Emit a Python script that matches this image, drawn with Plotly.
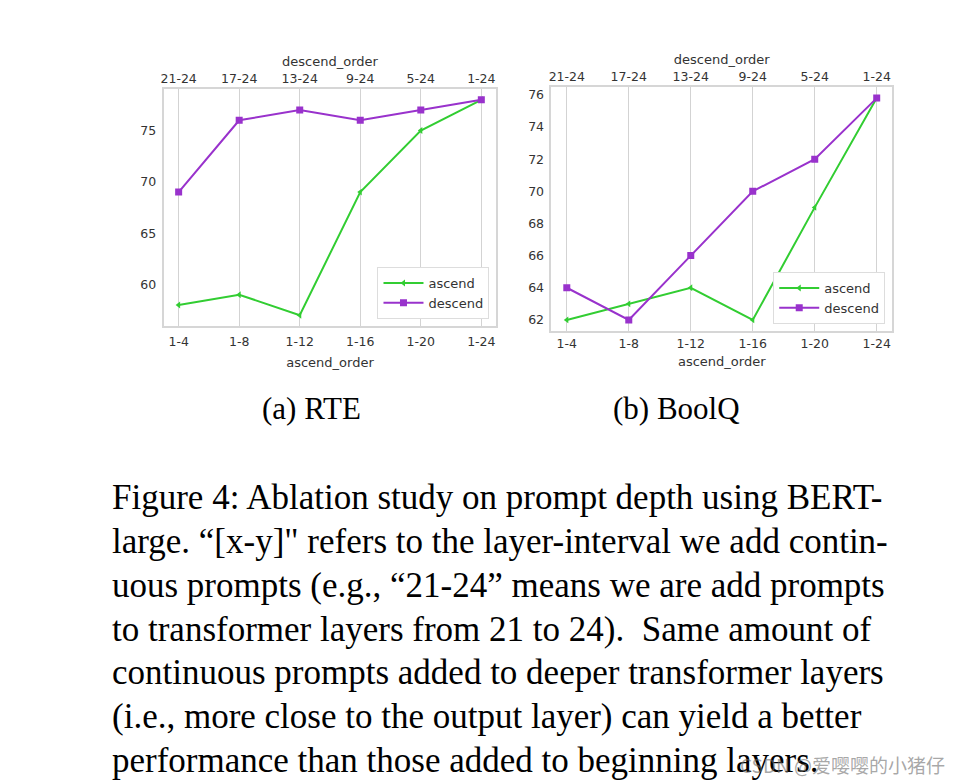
import plotly.graph_objects as go

# the page body has an 8px margin, so the figure is drawn 8px smaller
# and reference pixels are shifted by that offset
OFF = 8
W, H = 959 - OFF, 783 - OFF

ascend_order = ["1-4", "1-8", "1-12", "1-16", "1-20", "1-24"]
descend_order = ["21-24", "17-24", "13-24", "9-24", "5-24", "1-24"]

rte_ascend = [58, 59, 57, 69, 75, 78]
rte_descend = [69, 76, 77, 76, 77, 78]
boolq_ascend = [62, 63, 64, 62, 69, 75.8]
boolq_descend = [64, 62, 66, 70, 72, 75.8]

caption_lines = [
    "Figure 4: Ablation study on prompt depth using BERT-",
    "large. “[x-y]\" refers to the layer-interval we add contin-",
    "uous prompts (e.g., “21-24” means we are add prompts",
    "to transformer layers from 21 to 24).  Same amount of",
    "continuous prompts added to deeper transformer layers",
    "(i.e., more close to the output layer) can yield a better",
    "performance than those added to beginning layers.",
]
subcaptions = ["(a) RTE", "(b) BoolQ"]

GREEN = "#32CD32"
PURPLE = "#9932CC"
TXT = "#333333"
FRAME = "#d6d6d6"
FONT = "DejaVu Sans"


def px_x(v):
    return (v - OFF) / W


def px_y(v):
    return 1 - (v - OFF) / H


idx = list(range(len(ascend_order)))
fig = go.Figure()

panels = [
    # (ascend, descend, bottom x, top x, y, legend, box in page px, label gap, title gap)
    (rte_ascend, rte_descend, "x", "x3", "y", "legend", (161, 495, 89, 326), 3, 10),
    (boolq_ascend, boolq_descend, "x2", "x4", "y2", "legend2", (550, 892, 87, 331), 0, 7),
]

for asc, desc, xb, xt, ya, leg, *_ in panels:
    fig.add_trace(go.Scatter(
        x=idx, y=asc, xaxis=xb, yaxis=ya, name="ascend", legend=leg,
        mode="lines+markers", line=dict(color=GREEN, width=2),
        marker=dict(symbol="triangle-left", size=6, color=GREEN)))
    fig.add_trace(go.Scatter(
        x=idx, y=desc, xaxis=xt, yaxis=ya, name="descend", legend=leg,
        mode="lines+markers", line=dict(color=PURPLE, width=2),
        marker=dict(symbol="square", size=7, color=PURPLE)))

axis_common = dict(
    tickfont=dict(family=FONT, size=12.5, color=TXT),
    ticks="", zeroline=False,
)
title_font = dict(family=FONT, size=13, color=TXT)
xr = [-0.25, 5.25]


def yrange(a, b):
    lo, hi = min(a + b), max(a + b)
    pad = (hi - lo) * 0.05
    return [lo - pad, hi + pad]


layout = dict(
    width=W, height=H, margin=dict(l=0, r=0, t=0, b=0),
    paper_bgcolor="white", plot_bgcolor="white", showlegend=True,
)
for n, (asc, desc, xb, xt, ya, leg, box, lgap, tgap) in enumerate(panels):
    l, r, t, b = box
    dom_x = [px_x(l), px_x(r)]
    dom_y = [px_y(b), px_y(t)]
    bname = "xaxis" if xb == "x" else "xaxis" + xb[1:]
    tname = "xaxis" + xt[1:]
    yname = "yaxis" if ya == "y" else "yaxis" + ya[1:]
    layout[bname] = dict(
        axis_common, domain=dom_x, range=xr, tickvals=idx, ticktext=ascend_order,
        showgrid=True, gridcolor="#d3d3d3", gridwidth=1,
        showline=True, mirror=True, linecolor=FRAME, linewidth=1.5,
        anchor=ya, ticklabelstandoff=lgap,
        title=dict(text="ascend_order", font=title_font, standoff=tgap),
    )
    layout[tname] = dict(
        axis_common, domain=dom_x, range=xr, tickvals=idx, ticktext=descend_order,
        overlaying=xb, side="top", anchor=ya, showgrid=False, showline=False,
        ticklabelstandoff=3,
        title=dict(text="descend_order", font=title_font, standoff=0),
    )
    layout[yname] = dict(
        axis_common, domain=dom_y, range=yrange(asc, desc), anchor=xb,
        showgrid=False, showline=True, mirror=True, linecolor=FRAME, linewidth=1.5,
        dtick=5 if n == 0 else 2, ticklabelstandoff=3,
    )
    layout[leg] = dict(
        xanchor="right", yanchor="bottom",
        x=px_x(r - 7), y=px_y(b - 7),
        bgcolor="white", bordercolor="#dddddd", borderwidth=1,
        font=dict(family=FONT, size=13, color=TXT),
        tracegroupgap=0, itemwidth=40,
    )

fig.update_layout(**layout)

annotations = []
for text, cx in zip(subcaptions, [309, 676]):
    annotations.append(dict(
        text=text, x=px_x(cx), y=px_y(408), xref="paper", yref="paper",
        showarrow=False, xanchor="center", yanchor="middle",
        font=dict(family="Liberation Serif", size=31, color="black")))

for i, line in enumerate(caption_lines):
    annotations.append(dict(
        text=line, x=px_x(107), y=px_y(498 + i * 43.7), xref="paper", yref="paper",
        showarrow=False, xanchor="left", yanchor="middle",
        font=dict(family="Liberation Serif", size=35, color="black")))

annotations.append(dict(
    text="CSDN @爱嘤嘤的小猪仔", x=px_x(842), y=px_y(764), xref="paper", yref="paper",
    showarrow=False, xanchor="center", yanchor="middle",
    font=dict(family="Noto Sans CJK SC", size=19, color="rgba(110,110,110,0.6)")))

fig.update_layout(annotations=annotations)

fig.write_html("out.html")
